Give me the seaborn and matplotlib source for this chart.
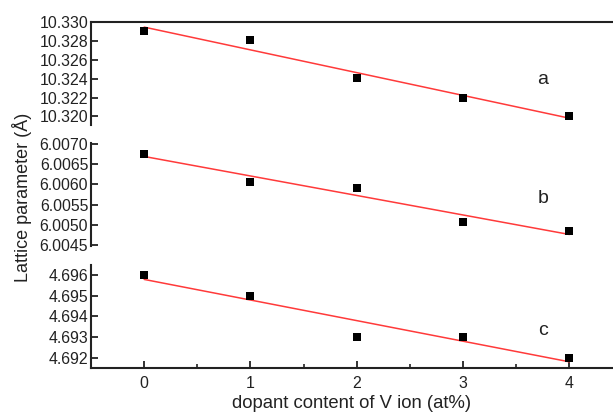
import numpy as np
import pandas as pd
import matplotlib
matplotlib.use("Agg")
import matplotlib.pyplot as plt
import seaborn as sns
from matplotlib.ticker import FormatStrFormatter, MultipleLocator

sns.set_theme(style="white")
plt.rcParams['font.family'] = ['Liberation Sans', 'DejaVu Sans']

dopant = [0, 1, 2, 3, 4]
lattice_a = [10.3290, 10.3281, 10.3241, 10.3220, 10.3200]
lattice_b = [6.00674, 6.00607, 6.00592, 6.00506, 6.00484]
lattice_c = [4.6960, 4.6950, 4.6930, 4.6930, 4.6920]
panel_labels = ["a", "b", "c"]
yticks_a = [10.320, 10.322, 10.324, 10.326, 10.328, 10.330]
yticks_b = [6.0045, 6.0050, 6.0055, 6.0060, 6.0065, 6.0070]
yticks_c = [4.692, 4.693, 4.694, 4.695, 4.696]

fig = plt.figure(figsize=(6.13, 4.16), dpi=100)
left = 91 / 613
width = 1 - left
h = 103 / 416
axes = [fig.add_axes([left, 1 - 125 / 416, width, h]),
        fig.add_axes([left, 1 - 246 / 416, width, h]),
        fig.add_axes([left, 1 - 368 / 416, width, h])]

series = [lattice_a, lattice_b, lattice_c]
ylims = [(10.3191, 10.3300), (6.00448, 6.00702), (4.6915, 4.6965)]
yticks = [yticks_a, yticks_b, yticks_c]
fmts = ["%.3f", "%.4f", "%.3f"]
label_y = [10.3239, 6.00565, 4.6933]

for i, ax in enumerate(axes):
    df = pd.DataFrame({"x": dopant, "y": series[i]})
    sns.regplot(data=df, x="x", y="y", ax=ax, ci=None, truncate=True, marker="s",
                scatter_kws=dict(s=34, color="black", alpha=1, zorder=3, linewidths=0),
                line_kws=dict(color="#ff3a3a", lw=1.1, zorder=2))
    ax.set_xlim(-0.5, 4.41)
    ax.set_ylim(*ylims[i])
    ax.set_yticks(yticks[i])
    ax.yaxis.set_major_formatter(FormatStrFormatter(fmts[i]))
    ax.set_xlabel("")
    ax.set_ylabel("")
    for s in ax.spines.values():
        s.set_visible(False)
        s.set_linewidth(1.5)
        s.set_color("#222222")
    ax.spines["left"].set_visible(True)
    ax.tick_params(axis="y", direction="in", length=5, width=1.3, labelsize=11.4,
                   colors="#222222", left=True, pad=2)
    ax.text(3.75, label_y[i], panel_labels[i], fontsize=14, ha="center", va="center", color="#222222")
    ax.patch.set_alpha(0)
    if i < 2:
        ax.set_xticks([])
    if i == 0:
        ax.spines["top"].set_visible(True)

axb = axes[2]
axb.spines["bottom"].set_visible(True)
axb.set_xticks(dopant)
axb.xaxis.set_minor_locator(MultipleLocator(0.5))
axb.tick_params(axis="x", which="major", direction="in", length=5, width=1.3,
                labelsize=11.4, colors="#222222", bottom=True, pad=6)
axb.tick_params(axis="x", which="minor", direction="in", length=3, width=1.2,
                colors="#222222", bottom=True)
axb.set_xlabel("dopant content of V ion (at%)", fontsize=13.3, color="#222222", labelpad=3)

fig.text(0.036, 0.525, "Lattice parameter (Å)", rotation=90, ha="center", va="center",
         fontsize=13, color="#222222")

fig.savefig("out.png", dpi=100)
